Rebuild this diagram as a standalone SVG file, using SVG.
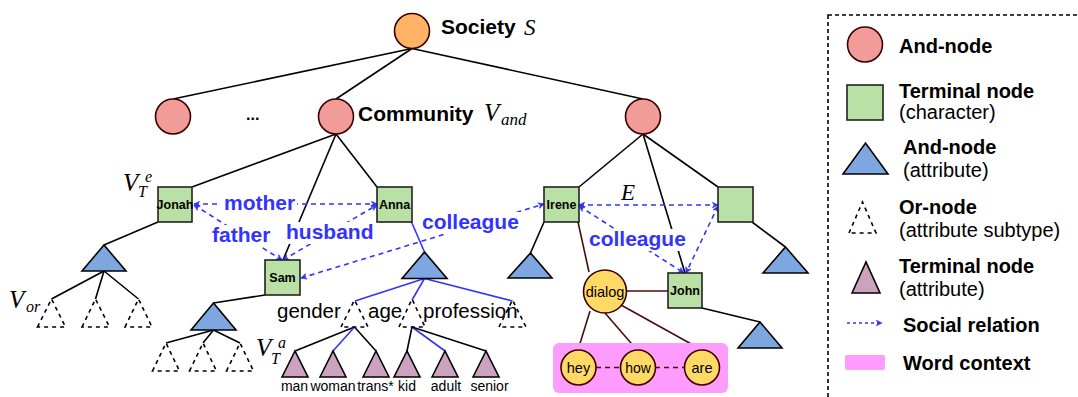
<svg xmlns="http://www.w3.org/2000/svg" width="1078" height="397" viewBox="0 0 1078 397">
<style>
.l{stroke:#000;stroke-width:1.6;fill:none}
.bl{stroke:#3333ff;stroke-width:1.6;fill:none}
.br{stroke:#4a0d0d;stroke-width:1.6;fill:none}
.rel{stroke:#3333ff;stroke-width:1.6;fill:none;stroke-dasharray:5 4;marker-start:url(#ah);marker-end:url(#ah)}
.soc{fill:#ffb366;stroke:#3d0000;stroke-width:1.6}
.andc{fill:#f19c99;stroke:#3d0000;stroke-width:1.6}
.term{fill:#b9e0a5;stroke:#222;stroke-width:1.6}
.atri{fill:#7ea6e0;stroke:#000;stroke-width:1.6}
.ttri{fill:#cda2be;stroke:#000;stroke-width:1.6}
.otri{fill:none;stroke:#000;stroke-width:1.6;stroke-dasharray:4 4}
.dlg{fill:#ffd966;stroke:#3d0000;stroke-width:1.6}
.t{font-family:"Liberation Sans",Arial,sans-serif;fill:#000}
.b{font-weight:bold}
.rl{font-family:"Liberation Sans",Arial,sans-serif;font-weight:bold;font-size:21px;fill:#3333ff}
.m{font-family:"Liberation Serif","Times New Roman",serif;font-style:italic;fill:#000}
.bg{fill:#fff}
</style>
<defs>
<marker id="ah" viewBox="0 0 10 10" refX="9" refY="5" markerWidth="7" markerHeight="7" orient="auto-start-reverse" markerUnits="userSpaceOnUse">
<path d="M1,1 L9,5 L1,9 L3.5,5 z" fill="#3333ff" stroke="#3333ff" stroke-width="1"/>
</marker>
</defs>

<g id="connectors">
<line class="l" x1="412" y1="48.5" x2="173" y2="99"/>
<line class="l" x1="412" y1="48.5" x2="336" y2="99"/>
<line class="l" x1="412" y1="48.5" x2="643" y2="99"/>
<line class="l" x1="336" y1="134" x2="192" y2="187"/>
<line class="l" x1="336" y1="134" x2="283" y2="260"/>
<line class="l" x1="336" y1="134" x2="377" y2="187"/>
<line class="l" x1="643" y1="134" x2="579" y2="187"/>
<line class="l" x1="643" y1="134" x2="685" y2="273"/>
<line class="l" x1="643" y1="134" x2="718" y2="187"/>
<line class="l" x1="158" y1="222" x2="104" y2="245"/>
<line class="l" x1="104" y1="271" x2="51.5" y2="299"/>
<line class="l" x1="104" y1="271" x2="95.5" y2="299"/>
<line class="l" x1="104" y1="271" x2="138.5" y2="299"/>
<line class="l" x1="265" y1="295" x2="213.5" y2="303"/>
<line class="l" x1="213.5" y1="330" x2="166" y2="343"/>
<line class="l" x1="213.5" y1="330" x2="203" y2="343"/>
<line class="l" x1="213.5" y1="330" x2="240" y2="343"/>
<line class="bl" x1="411.5" y1="222" x2="424.5" y2="252"/>
<line class="bl" x1="424.5" y1="278.5" x2="355" y2="301"/>
<line class="bl" x1="424.5" y1="278.5" x2="412" y2="300"/>
<line class="bl" x1="424.5" y1="278.5" x2="512.5" y2="301"/>
<line class="l" x1="354.5" y1="327" x2="295" y2="351"/>
<line class="bl" x1="354.5" y1="327" x2="333" y2="351"/>
<line class="l" x1="354.5" y1="327" x2="376" y2="351"/>
<line class="l" x1="412" y1="327" x2="407" y2="351"/>
<line class="bl" x1="412" y1="327" x2="445" y2="351"/>
<line class="l" x1="412" y1="327" x2="486" y2="351"/>
<line class="l" x1="544" y1="222" x2="530.5" y2="253"/>
<line class="l" x1="752" y1="222" x2="785.5" y2="247"/>
<line class="l" x1="702" y1="308" x2="760" y2="322"/>
<line class="br" x1="578" y1="222" x2="589" y2="272"/>
<line class="br" x1="627" y1="291" x2="668" y2="291"/>
<line class="br" x1="590" y1="311" x2="578" y2="350"/>
<line class="br" x1="605" y1="313" x2="637" y2="350"/>
<line class="br" x1="621" y1="305" x2="702" y2="350"/>
<line class="rel" x1="194" y1="204" x2="377" y2="204"/>
<line class="rel" x1="194" y1="205" x2="282" y2="260"/>
<line class="rel" x1="283" y1="260" x2="377" y2="205"/>
<line class="rel" x1="301" y1="278" x2="544" y2="204"/>
<line class="rel" x1="579" y1="205" x2="718" y2="205"/>
<line class="rel" x1="579" y1="206" x2="684" y2="273"/>
<line class="rel" x1="718" y1="206" x2="686" y2="273"/>
</g>

<g id="labels">
<rect class="bg" x="221" y="193" width="76" height="22"/>
<text class="rl" x="224" y="210">mother</text>
<rect class="bg" x="210" y="225" width="62" height="22"/>
<text class="rl" x="212" y="242">father</text>
<rect class="bg" x="284" y="222" width="92" height="22"/>
<text class="rl" x="286" y="239">husband</text>
<rect class="bg" x="420" y="212" width="101" height="22"/>
<text class="rl" x="422" y="229">colleague</text>
<rect class="bg" x="587" y="229" width="101" height="22"/>
<text class="rl" x="589" y="246">colleague</text>
<text class="m" x="621" y="200" font-size="23">E</text>
</g>

<g id="society"><circle class="soc" cx="412" cy="31" r="17.5"/>
<text class="t b" x="441" y="34" font-size="21">Society</text><text class="m" x="524" y="35" font-size="23">S</text></g>
<g id="and-left"><circle class="andc" cx="173" cy="116.5" r="17.5"/></g>
<text id="ellipsis" class="t b" x="246" y="120" font-size="16">...</text>
<g id="community"><circle class="andc" cx="336" cy="116.5" r="17.5"/>
<text class="t b" x="358" y="121" font-size="21">Community</text>
<text class="m" x="484" y="121" font-size="25">V</text><text class="m" x="501" y="125" font-size="17">and</text></g>
<g id="and-right"><circle class="andc" cx="643" cy="116.5" r="17.5"/></g>

<g id="jonah"><rect class="term" x="158" y="187" width="34" height="35"/><text class="t b" x="175" y="209" font-size="12.5" text-anchor="middle">Jonah</text>
<text class="m" x="123" y="191" font-size="25">V</text><text class="m" x="138" y="197" font-size="16">T</text><text class="m" x="145" y="182" font-size="16">e</text></g>
<g id="anna"><rect class="term" x="377" y="187" width="35" height="35"/><text class="t b" x="394.5" y="209" font-size="12.5" text-anchor="middle">Anna</text></g>
<g id="sam"><rect class="term" x="265" y="260" width="35" height="35"/><text class="t b" x="282.5" y="282" font-size="12.5" text-anchor="middle">Sam</text></g>
<g id="irene"><rect class="term" x="544" y="187" width="35" height="35"/><text class="t b" x="561.5" y="209" font-size="12.5" text-anchor="middle">Irene</text></g>
<g id="char-right"><rect class="term" x="718" y="187" width="35" height="35"/></g>
<g id="john"><rect class="term" x="668" y="273" width="34" height="35"/><text class="t b" x="685" y="295" font-size="12.5" text-anchor="middle">John</text></g>

<g id="jonah-attr"><polygon class="atri" points="82,271 104,245 126,271"/></g>
<g id="jonah-or">
<polygon class="otri" points="37.5,327 51.5,299 65.5,327"/>
<polygon class="otri" points="82,327 95.5,299 109.5,327"/>
<polygon class="otri" points="125,327 138.5,299 152,327"/>
<text class="m" x="9" y="308" font-size="25">V</text><text class="m" x="26" y="312" font-size="16">or</text></g>
<g id="sam-attr"><polygon class="atri" points="191,330 213.5,303 236,330"/></g>
<g id="sam-or">
<polygon class="otri" points="152.5,371 166,343 179.5,371"/>
<polygon class="otri" points="189.5,371 203,343 216.5,371"/>
<polygon class="otri" points="226.5,371 240,343 253.5,371"/></g>
<g id="anna-attr"><polygon class="atri" points="402,278.5 424.5,252 447,278.5"/></g>
<g id="gender"><text class="t" x="277" y="318" font-size="20.5">gender</text><polygon class="otri" points="341,327 354.5,300 368,327"/></g>
<g id="age"><text class="t" x="368" y="318" font-size="20.5">age</text><polygon class="otri" points="399,327 412,299 425,327"/></g>
<g id="profession"><text class="t" x="423" y="318" font-size="20.5">profession</text><polygon class="otri" points="499,327 512.5,300 526,327"/></g>
<g id="values">
<text class="m" x="256" y="356" font-size="25">V</text><text class="m" x="271" y="364" font-size="16">T</text><text class="m" x="278" y="348" font-size="16">a</text>
<polygon class="ttri" points="282,377 295,351 308,377"/>
<polygon class="ttri" points="320,377 333,351 346,377"/>
<polygon class="ttri" points="363,377 376,351 389,377"/>
<polygon class="ttri" points="394,377 407,351 420,377"/>
<polygon class="ttri" points="432,377 445,351 458,377"/>
<polygon class="ttri" points="473,377 486,351 499,377"/>
<text class="t" font-size="14" text-anchor="middle" y="391"><tspan x="294.5">man</tspan><tspan x="333">woman</tspan><tspan x="375.5">trans*</tspan><tspan x="407">kid</tspan><tspan x="446">adult</tspan><tspan x="489.5">senior</tspan></text>
</g>
<g id="irene-attr"><polygon class="atri" points="508,278 530.5,253 552,278"/></g>
<g id="right-attr"><polygon class="atri" points="763,273 785.5,247 808,273"/></g>
<g id="john-attr"><polygon class="atri" points="738,348 760,322 782,348"/></g>

<g id="word-context"><rect x="553" y="343" width="175" height="50" rx="6" fill="#ff9cff"/>
<line class="br" x1="596" y1="367.5" x2="621" y2="367.5" stroke-dasharray="5 4"/>
<line class="br" x1="655" y1="367.5" x2="685" y2="367.5" stroke-dasharray="5 4"/>
</g>
<g id="dialog"><circle class="dlg" cx="605" cy="291.5" r="21.5"/><text class="t" x="605" y="297" font-size="14.5" text-anchor="middle">dialog</text></g>
<g id="hey"><circle class="dlg" cx="578.5" cy="367.5" r="17.5"/><text class="t" x="578.5" y="373" font-size="14.5" text-anchor="middle">hey</text></g>
<g id="how"><circle class="dlg" cx="638" cy="367.5" r="17.5"/><text class="t" x="638" y="373" font-size="14" text-anchor="middle">how</text></g>
<g id="are"><circle class="dlg" cx="702" cy="367.5" r="17.5"/><text class="t" x="702" y="373" font-size="14.5" text-anchor="middle">are</text></g>

<g id="legend">
<rect x="828" y="15" width="260" height="400" fill="none" stroke="#000" stroke-width="1.6" stroke-dasharray="4 3"/>
<circle class="andc" cx="865" cy="44.5" r="17.5"/>
<text class="t b" x="899" y="53" font-size="20">And-node</text>
<rect class="term" x="847" y="85" width="36" height="35"/>
<text class="t b" x="899" y="98" font-size="20">Terminal node</text>
<text class="t" x="899" y="119" font-size="20">(character)</text>
<polygon class="atri" points="843,174 865.5,143 888,174"/>
<text class="t b" x="903" y="154" font-size="20">And-node</text>
<text class="t" x="903" y="177" font-size="20">(attribute)</text>
<polygon class="otri" points="849,233 862.5,202 876,233"/>
<text class="t b" x="899" y="214" font-size="20">Or-node</text>
<text class="t" x="899" y="237" font-size="20">(attribute subtype)</text>
<polygon class="ttri" points="852,293 866,262 880,293"/>
<text class="t b" x="899" y="273" font-size="20">Terminal node</text>
<text class="t" x="899" y="296" font-size="20">(attribute)</text>
<line x1="847" y1="323" x2="882" y2="323" stroke="#3333ff" stroke-width="1.3" stroke-dasharray="3 3" marker-end="url(#ah)"/>
<text class="t b" x="903" y="332" font-size="20">Social relation</text>
<rect x="845" y="355" width="40" height="15" rx="2" fill="#ff9cff"/>
<text class="t b" x="903" y="370" font-size="20">Word context</text>
</g>
</svg>
